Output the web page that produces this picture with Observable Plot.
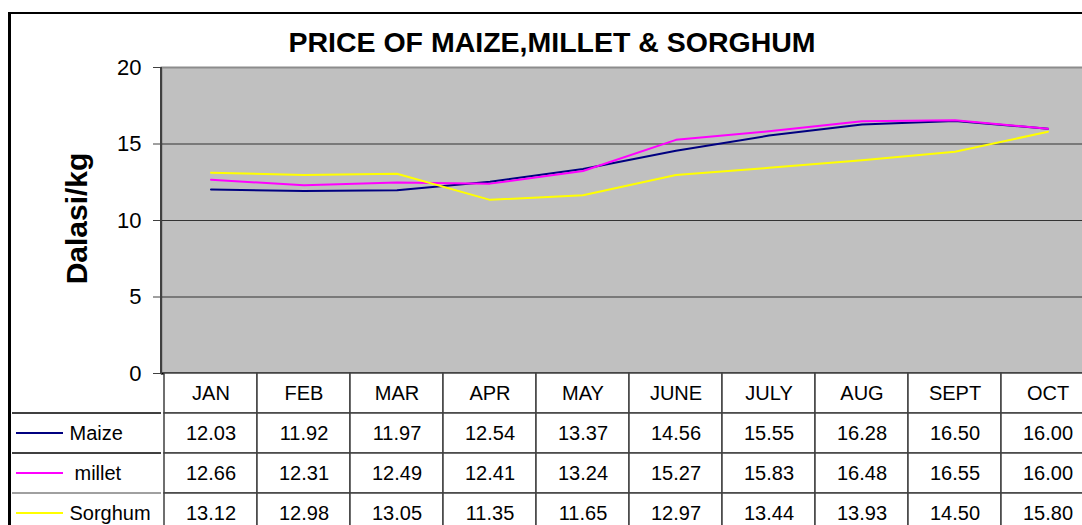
<!DOCTYPE html>
<html><head><meta charset="utf-8">
<script src="https://cdn.jsdelivr.net/npm/d3@7"></script>
<script src="https://cdn.jsdelivr.net/npm/@observablehq/plot@0.6"></script>
<style>
html,body{margin:0;padding:0;background:#fff;overflow:hidden;}
#wrap{position:relative;width:1082px;height:525px;overflow:hidden;font-family:Arial,"Liberation Sans",sans-serif;}
#border{position:absolute;left:8px;top:12px;width:1200px;height:700px;border-left:3px solid #000;border-top:2px solid #000;}
#title{position:absolute;left:0;top:22px;width:1104px;text-align:center;font-weight:bold;font-size:28.5px;line-height:40px;color:#000;}
#chart{position:absolute;left:0;top:0;width:1100px;}
#table{position:absolute;left:0;top:373px;width:1100px;}
#chart svg,#table svg{max-width:none !important;}
</style></head>
<body><div id="wrap"><div id="border"></div><div id="chart"></div><div id="table"></div><div id="title">PRICE OF MAIZE,MILLET &amp; SORGHUM</div></div>
<script>
const months = ["JAN","FEB","MAR","APR","MAY","JUNE","JULY","AUG","SEPT","OCT"];
const series = ["Maize","millet","Sorghum"];
const maize = [12.03,11.92,11.97,12.54,13.37,14.56,15.55,16.28,16.50,16.00];
const millet = [12.66,12.31,12.49,12.41,13.24,15.27,15.83,16.48,16.55,16.00];
const sorghum = [13.12,12.98,13.05,11.35,11.65,12.97,13.44,13.93,14.50,15.80];
const colors = ["#000080","#FF00FF","#FFFF00"];
const yTicks = [0,5,10,15,20];
const yLabel = "Dalasi/kg";

const FONT = 'Arial, "Liberation Sans", sans-serif';
const W = 1100;
const values = [maize, millet, sorghum];
const data = series.flatMap((s,k) => months.map((m,i) => ({series:s, month:m, value:values[k][i]})));

const leftLine = (index, scales, vals, dims) => {
  const l = d3.create("svg:line")
    .attr("x1", dims.marginLeft).attr("x2", dims.marginLeft)
    .attr("y1", dims.marginTop).attr("y2", dims.height - dims.marginBottom + 1)
    .attr("stroke", "#404040").attr("stroke-width", 2);
  return l.node();
};

const chart = Plot.plot({
  width: W, height: 374, marginTop: 67, marginBottom: 1, marginLeft: 161, marginRight: 3,
  style: {background: "transparent", fontFamily: FONT, color: "#000", overflow: "visible", maxWidth: "none"},
  x: {type: "band", domain: months, padding: 0, axis: null},
  y: {domain: [0, 20], axis: null},
  color: {domain: series, range: colors},
  marks: [
    Plot.frame({fill: "#c0c0c0", stroke: "#8c8c8c", strokeWidth: 2}),
    Plot.ruleY(yTicks.slice(1, -1), {stroke: "#333", strokeWidth: 1}),
    Plot.axisY({ticks: yTicks, tickSize: 8, tickPadding: 12, fontSize: 22, tickFormat: d => String(d), label: null, stroke: "#404040"}),
    Plot.line(data, {x: "month", y: "value", z: "series", stroke: "series", strokeWidth: 2}),
    Plot.ruleY([0], {stroke: "#000", strokeWidth: 2}),
    leftLine,
    Plot.text([yLabel], {text: d => d, frameAnchor: "left", textAnchor: "middle", dx: -84, dy: -2, rotate: -90, fontSize: 30, fontWeight: "bold", fill: "#000"})
  ]
});
document.getElementById("chart").appendChild(chart);

const rows = ["head", ...series];
const cells = [];
months.forEach((m, i) => {
  cells.push({month: m, row: "head", label: m});
  series.forEach((s, k) => cells.push({month: m, row: s, label: values[k][i].toFixed(2)}));
});

const legendMark = (index, scales, vals, dims) => {
  const y = scales.y;
  const step = y(series[1]) - y(series[0]);
  const L = dims.marginLeft;
  const g = d3.create("svg:g");
  series.forEach((s, k) => {
    const y0 = y(s);
    g.append("line").attr("x1", L - 149).attr("x2", L).attr("y1", y0).attr("y2", y0)
      .attr("stroke", k === 2 ? "#808080" : "#000").attr("stroke-width", 1.5);
    g.append("line").attr("x1", L - 145).attr("x2", L - 98).attr("y1", y0 + step / 2).attr("y2", y0 + step / 2)
      .attr("stroke", colors[k]).attr("stroke-width", 2);
  });
  return g.node();
};

const table = Plot.plot({
  width: W, height: 160, marginTop: 0, marginBottom: 0, marginLeft: 161, marginRight: 3,
  style: {background: "transparent", fontFamily: FONT, color: "#000", overflow: "visible", maxWidth: "none"},
  x: {type: "band", domain: months, padding: 0, axis: null},
  y: {type: "band", domain: rows, padding: 0, axis: null},
  marks: [
    Plot.cell(cells, {x: "month", y: "row", fill: "white", stroke: "#404040", strokeWidth: 1.5, inset: 0}),
    Plot.text(cells, {x: "month", y: "row", text: "label", fontSize: 20, fill: "#000"}),
    legendMark,
    Plot.text(series.filter(s => s !== "millet"), {y: d => d, text: d => d, frameAnchor: "left", dx: -92, textAnchor: "start", fontSize: 20, fill: "#000"}),
    Plot.text(series.filter(s => s === "millet"), {y: d => d, text: d => d, frameAnchor: "left", dx: -87, textAnchor: "start", fontSize: 20, fill: "#000"})
  ]
});
document.getElementById("table").appendChild(table);
</script>
</body></html>
